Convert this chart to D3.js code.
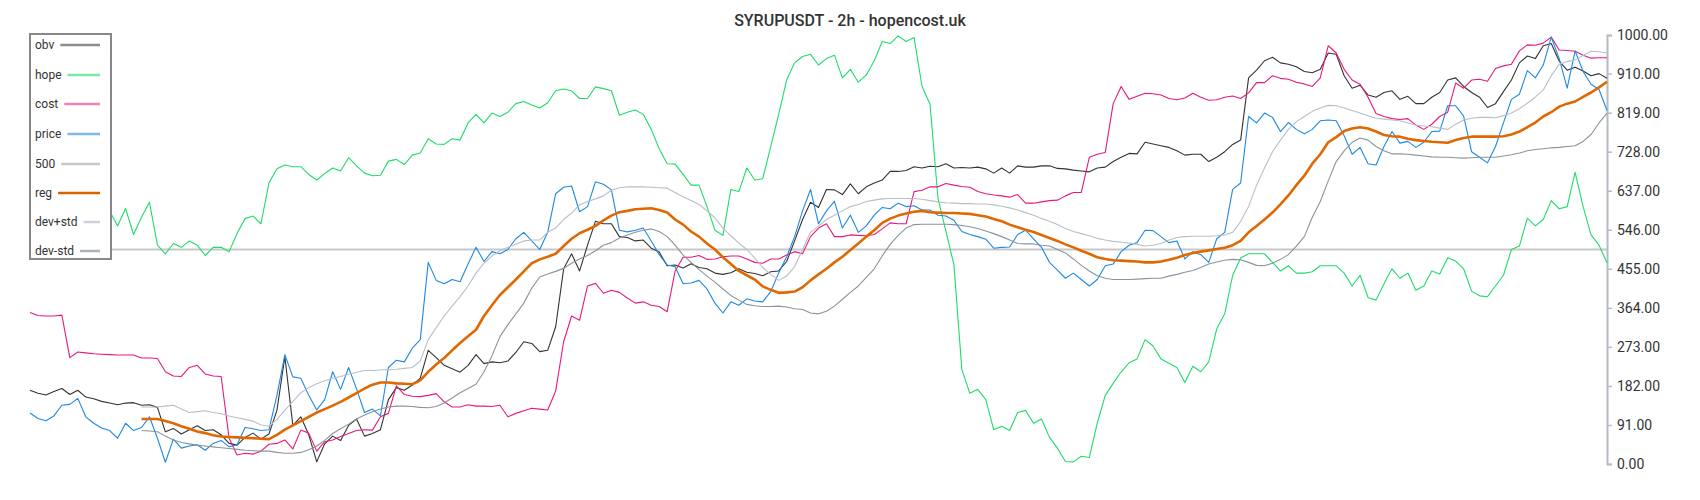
<!DOCTYPE html>
<html>
<head>
<meta charset="utf-8">
<script src="https://cdn.jsdelivr.net/npm/d3@7"></script>
<style>
  html, body { margin: 0; padding: 0; background: #fff; }
  svg { display: block; font-family: Roboto, "Noto Sans", sans-serif; }
</style>
</head>
<body>
<svg id="chart" width="1700" height="500"></svg>
<script>
const title = "SYRUPUSDT - 2h - hopencost.uk";
const tickValues = [0, 91, 182, 273, 364, 455, 546, 637, 728, 819, 910, 1000];
const refLevel = 500;

const price = [
119,106,101,112,137,139,153,110,95,84,
78,60,95,78,85,110,60,4,58,37,
42,45,32,48,55,40,45,85,82,78,
80,160,255,203,200,160,126,150,215,174,
225,175,120,128,112,225,242,238,270,290,
470,428,420,430,425,466,505,472,495,490,
500,525,540,520,500,540,630,645,648,588,
600,658,652,639,545,541,545,550,520,488,
464,460,420,422,428,408,375,352,378,370,
385,380,378,402,445,483,530,590,640,560,
590,612,550,580,540,555,580,598,595,608,
600,602,592,592,580,578,568,542,535,530,
524,503,505,506,535,545,525,505,470,452,
433,445,430,415,430,462,466,495,510,516,
545,544,530,516,520,478,495,488,470,525,
540,640,655,810,795,818,808,775,796,780,
770,780,800,802,800,765,722,738,700,697,
740,775,748,752,738,750,775,776,835,835,
811,728,715,702,740,795,850,862,917,900,
930,995,945,876,963,915,885,873,824];

const obv = [
172,165,161,169,176,162,172,156,152,146,
142,138,142,143,137,138,132,75,83,70,
80,89,78,80,68,48,44,62,72,58,
70,125,250,90,110,68,5,47,65,55,
90,105,65,71,80,150,178,172,184,200,
265,248,230,222,214,230,255,234,238,236,
240,260,285,281,262,265,320,455,490,450,
510,566,560,560,530,528,520,522,503,494,
462,464,457,467,458,455,445,442,446,455,
447,444,439,448,450,472,520,570,610,598,
640,639,628,653,630,646,655,662,682,682,
684,693,690,694,693,700,690,691,690,692,
688,678,690,678,695,692,692,695,695,689,
688,685,683,681,690,692,705,715,724,723,
750,746,742,738,730,720,722,722,705,715,
728,745,755,900,918,940,948,935,932,926,
915,912,920,958,955,905,876,883,860,855,
866,870,850,857,840,840,855,866,895,900,
880,866,855,831,840,868,895,935,951,945,
975,980,939,918,925,916,905,910,899];

const hope = [
null,null,null,null,null,null,null,null,null,null,
590,555,596,535,575,610,510,490,514,505,
520,510,486,505,505,495,538,572,578,560,
655,688,697,693,693,675,662,677,690,683,
714,695,678,672,673,706,710,698,720,725,
758,746,745,758,755,795,815,795,818,810,
820,840,845,837,830,842,870,874,870,852,
852,879,875,870,813,820,825,815,780,735,
700,699,675,650,650,600,545,533,640,635,
690,662,665,740,815,895,935,950,955,930,
945,953,900,920,890,907,940,985,980,998,
985,994,880,839,620,542,465,220,165,174,
150,80,88,78,120,125,95,105,62,37,
6,5,18,15,95,160,188,215,236,245,
290,275,245,235,225,190,228,215,238,315,
350,440,480,490,490,490,470,450,462,445,
445,448,462,462,462,445,415,440,388,382,
420,455,433,445,405,415,450,443,481,473,
455,403,392,390,415,440,500,508,573,555,
570,614,595,600,680,600,534,510,469];

const cost = [
353,346,345,345,347,248,261,259,257,256,
255,254,254,254,247,247,246,215,205,204,
225,230,210,205,204,60,21,25,23,30,
46,48,56,35,79,72,30,52,56,64,
71,78,80,79,110,118,182,162,158,157,
160,164,145,133,133,138,135,135,134,137,
110,118,124,130,128,126,170,285,345,335,
415,421,398,405,400,387,375,378,370,367,
355,450,482,482,486,477,478,483,485,485,
478,470,468,478,478,487,495,490,530,550,
560,530,530,534,533,532,535,548,562,560,
560,635,638,646,646,654,650,647,645,635,
630,627,625,622,628,608,608,611,614,615,
625,633,633,715,722,726,840,880,850,857,
864,863,860,852,849,853,864,855,848,849,
855,858,852,865,889,889,905,899,897,890,
886,880,900,975,958,920,895,885,855,817,
810,805,803,805,790,780,792,810,820,888,
876,895,897,892,922,928,932,963,977,976,
981,995,965,964,962,953,946,947,947];

const reg = [
null,null,null,null,null,null,null,null,null,null,
null,null,null,null,105,105,105,100,95,88,
82,76,72,67,64,63,62,61,60,59,
58,68,80,90,100,110,120,128,136,145,
155,165,176,185,190,190,188,187,186,195,
215,232,247,265,282,298,313,345,370,394,
412,430,449,468,477,483,490,508,525,538,
546,555,568,579,587,590,594,595,596,592,
586,570,558,542,530,514,500,482,466,450,
440,430,414,406,399,400,402,412,428,442,
455,470,483,499,514,530,545,562,572,579,
584,588,590,587,586,585,585,584,583,580,
577,571,566,558,552,546,541,534,527,520,
512,505,497,490,482,478,475,474,473,472,
470,470,472,476,481,487,492,495,498,501,
504,510,520,540,555,570,586,605,626,650,
672,700,722,750,762,776,782,785,782,775,
767,764,763,758,755,753,751,750,749,755,
760,763,763,763,763,764,768,775,785,796,
810,820,833,840,845,856,866,878,891];

const devPlus = [
null,null,null,null,null,null,null,null,null,null,
null,null,null,null,133,133,133,135,137,128,
120,122,124,120,117,112,108,104,100,91,
88,104,125,146,166,178,187,194,200,204,
209,214,218,218,219,220,221,223,225,240,
290,318,345,368,390,415,445,468,485,497,
505,512,520,522,522,540,550,570,585,604,
612,618,625,638,644,646,646,646,645,644,
643,633,623,614,605,590,574,550,532,515,
500,480,458,442,428,438,460,500,540,555,
570,580,590,600,605,612,615,618,619,619,
619,619,617,614,611,609,608,607,607,606,
606,604,601,597,592,586,580,572,566,558,
549,542,537,532,526,522,519,517,515,512,
508,510,514,522,528,530,531,531,531,532,
534,540,565,600,650,690,728,755,780,798,
810,822,830,836,835,830,824,818,812,806,
804,802,800,795,790,788,786,783,780,792,
802,806,808,808,807,812,818,828,841,855,
872,905,932,938,942,952,962,961,958];

const devMinus = [
null,null,null,null,null,null,null,null,null,null,
null,null,null,null,78,77,75,65,56,50,
47,44,42,40,38,36,34,32,31,30,
30,27,25,25,27,33,42,55,71,82,
93,105,114,122,128,133,135,135,134,132,
131,134,142,154,166,176,186,215,252,297,
325,350,375,410,436,443,449,456,468,478,
486,497,510,516,527,534,540,545,548,542,
530,510,487,470,453,438,424,408,393,382,
372,369,367,367,368,366,362,360,352,350,
356,368,384,400,415,435,455,485,512,533,
550,558,559,559,559,559,558,556,553,549,
543,537,530,522,514,513,513,510,508,500,
492,478,463,450,439,433,430,430,430,431,
432,433,433,438,442,447,451,458,466,471,
475,477,476,470,463,462,468,477,488,508,
530,575,612,660,705,730,750,760,755,740,
730,723,723,722,720,718,716,715,715,714,
713,714,715,715,715,718,721,725,730,733,
735,737,738,740,742,752,768,795,818];

const legendNames = ["obv", "hope", "cost", "price", "500", "reg", "dev+std", "dev-std"];

const svg = d3.select("#chart");
const x = d3.scaleLinear().domain([0, price.length - 1]).range([30, 1607]);
const y = d3.scaleLinear().domain([0, 1000]).range([464, 35]);

// title
svg.append("text")
  .attr("x", 850).attr("y", 26)
  .attr("text-anchor", "middle")
  .attr("font-size", 16).attr("font-weight", 500)
  .attr("fill", "#333")
  .text(title);

// y axis on right
const axis = d3.axisRight(y).tickValues(tickValues).tickFormat(d3.format(".2f")).tickSize(5).tickPadding(5);
const ag = svg.append("g").attr("transform", "translate(1607,0)").call(axis);
ag.select(".domain").attr("stroke", "#b4bcc4").attr("stroke-width", 2);
ag.selectAll(".tick line").attr("stroke", "#b4bcc4").attr("stroke-width", 1.5);
ag.selectAll(".tick text").attr("fill", "#333").attr("font-size", 14).attr("font-family", "Roboto, sans-serif");

// reference line at 500
svg.append("line")
  .attr("x1", x(0)).attr("x2", x(price.length - 1))
  .attr("y1", y(refLevel)).attr("y2", y(refLevel))
  .attr("stroke", "#c8c8c8").attr("stroke-width", 2);

const line = d3.line().defined(d => d != null).x((d, i) => x(i)).y(d => y(d));

const series = [
  { data: obv, color: "#333333", w: 1.1 },
  { data: hope, color: "#1fdc6a", w: 1.1 },
  { data: cost, color: "#e8197d", w: 1.1 },
  { data: price, color: "#1e88e5", w: 1.1 },
  { data: devPlus, color: "#b8bfc6", w: 1.1 },
  { data: devMinus, color: "#8a949e", w: 1.1 },
  { data: reg, color: "#e06800", w: 2.6 }
];
series.forEach(s => {
  svg.append("path")
    .attr("d", line(s.data))
    .attr("fill", "none")
    .attr("stroke", s.color)
    .attr("stroke-width", s.w)
    .attr("stroke-linejoin", "round");
});

// legend
const legendColors = ["#8c8c8c", "#7fe8a8", "#ef7fbb", "#7fb8ea", "#c8c8c8", "#d86400", "#ccd2d7", "#aab3bb"];
const lg = svg.append("g");
lg.append("rect").attr("x", 30).attr("y", 34).attr("width", 81).attr("height", 225)
  .attr("fill", "#fff").attr("stroke", "#888").attr("stroke-width", 2);
const rowY = [45, 75, 104, 134, 164, 193, 222, 251];
legendNames.forEach((name, i) => {
  const t = lg.append("text").attr("x", 35).attr("y", rowY[i] + 4)
    .attr("font-size", 12).attr("fill", "#333").text(name);
  const tw = t.node().getComputedTextLength();
  lg.append("line")
    .attr("x1", 35 + tw + 6).attr("x2", 100)
    .attr("y1", rowY[i]).attr("y2", rowY[i])
    .attr("stroke", legendColors[i]).attr("stroke-width", 2.5);
});
</script>
</body>
</html>
